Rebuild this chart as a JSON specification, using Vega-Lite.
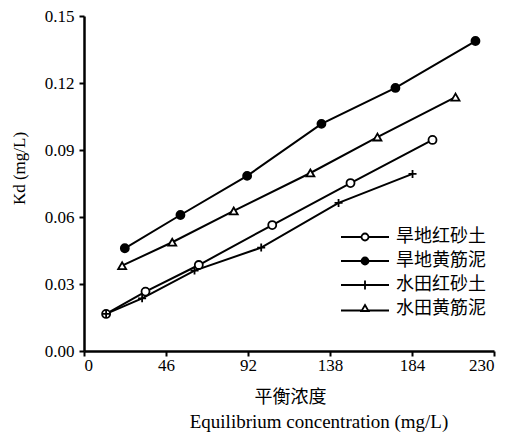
{
  "$schema": "https://vega.github.io/schema/vega-lite/v6.json",
  "width": 410,
  "height": 335,
  "autosize": {"type": "none"},
  "padding": {"left": 84, "top": 16, "right": 18, "bottom": 82},
  "background": "white",
  "config": {
    "view": {"stroke": null},
    "axis": {
      "grid": false,
      "ticks": true,
      "domainColor": "black",
      "domainWidth": 2.5,
      "domainOpacity": 1,
      "tickColor": "black",
      "tickWidth": 2,
      "tickOpacity": 1,
      "labelFont": "Liberation Serif",
      "labelFontSize": 17,
      "labelColor": "black",
      "titleColor": "black",
      "titleFontWeight": "normal"
    }
  },
  "title": {
    "text": "Equilibrium concentration (mg/L)",
    "orient": "bottom",
    "anchor": "middle",
    "frame": "group",
    "dx": 30,
    "offset": 7,
    "font": "Liberation Serif",
    "fontSize": 19,
    "fontWeight": "normal",
    "color": "black"
  },
  "data": {
    "values": [
      {"series": "旱地红砂土", "x": 12.4, "y": 0.0166},
      {"series": "旱地红砂土", "x": 34.5, "y": 0.0266},
      {"series": "旱地红砂土", "x": 64.4, "y": 0.0385},
      {"series": "旱地红砂土", "x": 105.6, "y": 0.0564},
      {"series": "旱地红砂土", "x": 149.5, "y": 0.0752},
      {"series": "旱地红砂土", "x": 195.5, "y": 0.0945},
      {"series": "旱地黄筋泥", "x": 22.9, "y": 0.046},
      {"series": "旱地黄筋泥", "x": 54.1, "y": 0.0609},
      {"series": "旱地黄筋泥", "x": 91.5, "y": 0.0784},
      {"series": "旱地黄筋泥", "x": 133.2, "y": 0.1017},
      {"series": "旱地黄筋泥", "x": 174.7, "y": 0.1178},
      {"series": "旱地黄筋泥", "x": 219.6, "y": 0.1388},
      {"series": "水田红砂土", "x": 12.4, "y": 0.0166},
      {"series": "水田红砂土", "x": 32.6, "y": 0.0236},
      {"series": "水田红砂土", "x": 62, "y": 0.036},
      {"series": "水田红砂土", "x": 99.4, "y": 0.0463},
      {"series": "水田红砂土", "x": 142.8, "y": 0.0663},
      {"series": "水田红砂土", "x": 184.3, "y": 0.0793},
      {"series": "水田黄筋泥", "x": 21.4, "y": 0.0382},
      {"series": "水田黄筋泥", "x": 49.5, "y": 0.0487},
      {"series": "水田黄筋泥", "x": 84, "y": 0.0627},
      {"series": "水田黄筋泥", "x": 127, "y": 0.0797},
      {"series": "水田黄筋泥", "x": 164.6, "y": 0.0958},
      {"series": "水田黄筋泥", "x": 208.4, "y": 0.1137}
    ]
  },
  "encoding": {
    "x": {
      "field": "x",
      "type": "quantitative",
      "scale": {"domain": [0, 230], "nice": false, "zero": false},
      "axis": {
        "values": [0, 46, 92, 138, 184, 230],
        "tickSize": 5,
        "labelPadding": 1,
        "title": "平衡浓度",
        "titleFont": "Noto Sans CJK SC",
        "titleFontSize": 18,
        "titleX": 206,
        "titleY": 46,
        "titleBaseline": "middle",
        "titleAlign": "center"
      }
    },
    "y": {
      "field": "y",
      "type": "quantitative",
      "scale": {"domain": [0, 0.15], "nice": false, "zero": false},
      "axis": {
        "values": [0, 0.03, 0.06, 0.09, 0.12, 0.15],
        "format": ".2f",
        "tickSize": 5,
        "labelPadding": 5,
        "title": "Kd (mg/L)",
        "titleFont": "Liberation Serif",
        "titleFontSize": 17,
        "titleX": -65,
        "titleY": 152,
        "titleBaseline": "middle",
        "titleAlign": "center"
      }
    }
  },
  "layer": [
    {
      "mark": {"type": "line", "color": "black", "strokeWidth": 2},
      "encoding": {"detail": {"field": "series"}}
    },
    {
      "mark": {"type": "point", "filled": true, "stroke": "black", "strokeWidth": 1.8, "size": 64, "opacity": 1},
      "encoding": {
        "shape": {
          "field": "series",
          "scale": {
            "domain": ["旱地红砂土", "旱地黄筋泥", "水田红砂土", "水田黄筋泥"],
            "range": ["circle", "circle", "M-1,0H1M0,-1V1", "triangle-up"]
          },
          "legend": null
        },
        "fill": {
          "field": "series",
          "scale": {
            "domain": ["旱地红砂土", "旱地黄筋泥", "水田红砂土", "水田黄筋泥"],
            "range": ["white", "black", "white", "white"]
          },
          "legend": null
        }
      }
    },
    {
      "transform": [{"filter": "datum.x > 1000"}],
      "mark": {"type": "point", "stroke": "black", "strokeWidth": 1.8, "opacity": 1},
      "encoding": {
        "shape": {
          "field": "series",
          "scale": {
            "domain": ["旱地红砂土", "旱地黄筋泥", "水田红砂土", "水田黄筋泥"],
            "range": [
              "M-4.8,0H-0.7M0.7,0H4.8M-0.7,0A0.7,0.7,0,1,0,0.7,0A0.7,0.7,0,1,0,-0.7,0Z",
              "M-4.8,0H4.8M-0.7,0A0.7,0.7,0,1,0,0.7,0A0.7,0.7,0,1,0,-0.7,0ZM-0.45,0A0.45,0.45,0,1,0,0.45,0A0.45,0.45,0,1,0,-0.45,0ZM-0.2,0A0.2,0.2,0,1,0,0.2,0A0.2,0.2,0,1,0,-0.2,0Z",
              "M-4.8,0H4.8M0,-0.9V0.9",
              "M-4.8,0.3H-0.65M0.65,0.3H4.8M0,-0.8L0.7,0.4L-0.7,0.4Z"
            ]
          },
          "legend": {
            "title": null,
            "orient": "none",
            "legendX": 272,
            "legendY": 212,
            "padding": 0,
            "symbolSize": 100,
            "labelOffset": 22,
            "labelFont": "Noto Sans CJK SC",
            "labelFontSize": 18,
            "labelColor": "black",
            "rowPadding": 6,
            "symbolStrokeWidth": 1.8,
            "symbolStrokeColor": "black",
            "symbolOpacity": 1,
            "encode": {
              "symbols": {
                "update": {
                  "fill": {"value": "white"},
                  "fillOpacity": {"value": 1},
                  "stroke": {"value": "black"},
                  "strokeOpacity": {"value": 1},
                  "strokeWidth": {"value": 1.8},
                  "opacity": {"value": 1}
                }
              }
            }
          }
        }
      }
    }
  ],
  "resolve": {"scale": {"shape": "independent"}}
}
